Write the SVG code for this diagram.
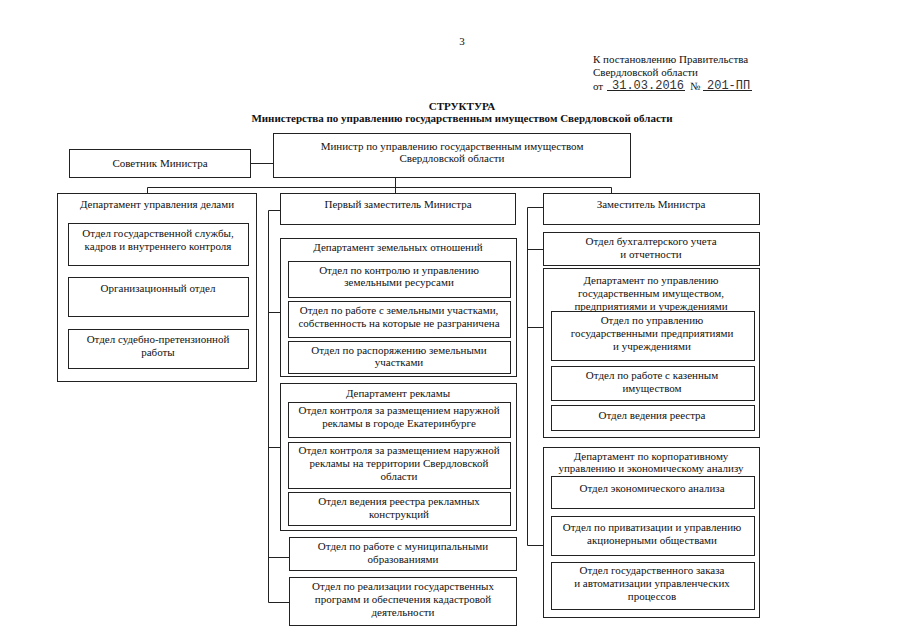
<svg xmlns="http://www.w3.org/2000/svg" width="905" height="640" viewBox="0 0 905 640">
<style>
text{font-family:"Liberation Serif","Times New Roman",serif;font-size:11px;fill:#111}
.c{text-anchor:middle}
.b{font-weight:bold}
.box{fill:#fff;stroke:#222;stroke-width:1}
.ln{fill:none;stroke:#222;stroke-width:1}
.mono{font-family:"Liberation Mono","Courier New",monospace;font-size:12px;fill:#333}
</style>
<rect width="905" height="640" fill="#fff"/>
<g id="header">
<text x="462" y="45" class="c">3</text>
<text x="593" y="63">К постановлению Правительства</text>
<text x="593" y="76">Свердловской области</text>
<text x="593" y="90">от</text>
<text x="612" y="89" class="mono">31.03.2016</text>
<text x="690" y="90">№</text>
<text x="707" y="89" class="mono">201-ПП</text>
<path class="ln" d="M607 90.5H685M703 90.5H752" stroke="#444"/>
<text x="462" y="110" class="c b">СТРУКТУРА</text>
<text x="462" y="122" class="c b">Министерства по управлению государственным имуществом Свердловской области</text>
</g>
<g id="connectors">
<path class="ln" d="M250.5 163.5H273.5"/>
<path class="ln" d="M395.5 178V193M147.5 193V187.5H611.5V193"/>
<path class="ln" d="M280 210.5H268.5V602.5H289M268.5 312.5H280M268.5 447.5H280M268.5 557.5H289"/>
<path class="ln" d="M543 207.5H527.5V545.5H543M527.5 249.5H543M527.5 327.5H543"/>
</g>
<g id="minister">
<rect class="box" x="273.5" y="133.5" width="357" height="44"/>
<text x="452" y="150" class="c">Министр по управлению государственным имуществом</text>
<text x="452" y="162" class="c">Свердловской области</text>
</g>
<g id="advisor">
<rect class="box" x="69.5" y="149.5" width="181" height="28"/>
<text x="160" y="167" class="c">Советник Министра</text>
</g>
<g id="dept-affairs">
<rect class="box" x="57.5" y="193.5" width="199" height="188"/>
<text x="157" y="208" class="c">Департамент управления делами</text>
</g>
<g id="civil-service">
<rect class="box" x="68.5" y="223.5" width="180" height="42"/>
<text x="158" y="237" class="c">Отдел государственной службы,</text>
<text x="158" y="250" class="c">кадров и внутреннего контроля</text>
</g>
<g id="org-dept">
<rect class="box" x="68.5" y="277.5" width="180" height="39"/>
<text x="158" y="292" class="c">Организационный отдел</text>
</g>
<g id="claims">
<rect class="box" x="68.5" y="329.5" width="180" height="39"/>
<text x="158" y="343" class="c">Отдел судебно-претензионной</text>
<text x="158" y="356" class="c">работы</text>
</g>
<g id="first-deputy">
<rect class="box" x="280.5" y="193.5" width="235" height="31"/>
<text x="398" y="208" class="c">Первый заместитель Министра</text>
</g>
<g id="dept-land">
<rect class="box" x="280.5" y="238.5" width="236" height="138"/>
<text x="398" y="251" class="c">Департамент земельных отношений</text>
</g>
<g id="land-control">
<rect class="box" x="288.5" y="261.5" width="222" height="36"/>
<text x="399" y="274" class="c">Отдел по контролю и управлению</text>
<text x="399" y="286" class="c">земельными ресурсами</text>
</g>
<g id="land-plots">
<rect class="box" x="288.5" y="301.5" width="222" height="36"/>
<text x="399" y="314" class="c">Отдел по работе с земельными участками,</text>
<text x="399" y="327" class="c">собственность на которые не разграничена</text>
</g>
<g id="land-disposal">
<rect class="box" x="288.5" y="341.5" width="222" height="32"/>
<text x="399" y="354" class="c">Отдел по распоряжению земельными</text>
<text x="399" y="366" class="c">участками</text>
</g>
<g id="dept-ads">
<rect class="box" x="280.5" y="383.5" width="236" height="147"/>
<text x="398" y="397" class="c">Департамент рекламы</text>
</g>
<g id="ads-ekb">
<rect class="box" x="288.5" y="402.5" width="222" height="35"/>
<text x="399" y="414" class="c">Отдел контроля за размещением наружной</text>
<text x="399" y="427" class="c">рекламы в городе Екатеринбурге</text>
</g>
<g id="ads-region">
<rect class="box" x="288.5" y="442.5" width="222" height="46"/>
<text x="399" y="454" class="c">Отдел контроля за размещением наружной</text>
<text x="399" y="467" class="c">рекламы на территории Свердловской</text>
<text x="399" y="480" class="c">области</text>
</g>
<g id="ads-registry">
<rect class="box" x="288.5" y="492.5" width="222" height="33"/>
<text x="399" y="505" class="c">Отдел ведения реестра рекламных</text>
<text x="399" y="518" class="c">конструкций</text>
</g>
<g id="municipal">
<rect class="box" x="289.5" y="537.5" width="227" height="33"/>
<text x="403" y="550" class="c">Отдел по работе с муниципальными</text>
<text x="403" y="563" class="c">образованиями</text>
</g>
<g id="cadastral">
<rect class="box" x="289.5" y="577.5" width="227" height="48"/>
<text x="403" y="590" class="c">Отдел по реализации государственных</text>
<text x="403" y="603" class="c">программ и обеспечения кадастровой</text>
<text x="403" y="616" class="c">деятельности</text>
</g>
<g id="deputy">
<rect class="box" x="543.5" y="193.5" width="216" height="31"/>
<text x="651" y="208" class="c">Заместитель Министра</text>
</g>
<g id="accounting">
<rect class="box" x="543.5" y="232.5" width="216" height="33"/>
<text x="651" y="245" class="c">Отдел бухгалтерского учета</text>
<text x="651" y="258" class="c">и отчетности</text>
</g>
<g id="dept-property">
<rect class="box" x="543.5" y="268.5" width="216" height="169"/>
<text x="651" y="284" class="c">Департамент по управлению</text>
<text x="651" y="297" class="c">государственным имуществом,</text>
<text x="651" y="310" class="c">предприятиями и учреждениями</text>
</g>
<g id="enterprises">
<rect class="box" x="551.5" y="311.5" width="203" height="49"/>
<text x="652" y="324" class="c">Отдел по управлению</text>
<text x="652" y="337" class="c">государственными предприятиями</text>
<text x="652" y="350" class="c">и учреждениями</text>
</g>
<g id="treasury">
<rect class="box" x="551.5" y="366.5" width="203" height="34"/>
<text x="652" y="379" class="c">Отдел по работе с казенным</text>
<text x="652" y="392" class="c">имуществом</text>
</g>
<g id="registry">
<rect class="box" x="551.5" y="405.5" width="203" height="25"/>
<text x="652" y="419" class="c">Отдел ведения реестра</text>
</g>
<g id="dept-corporate">
<rect class="box" x="543.5" y="447.5" width="216" height="170"/>
<text x="651" y="460" class="c">Департамент по корпоративному</text>
<text x="651" y="472" class="c">управлению и экономическому анализу</text>
</g>
<g id="economic">
<rect class="box" x="551.5" y="476.5" width="203" height="32"/>
<text x="652" y="492" class="c">Отдел экономического анализа</text>
</g>
<g id="privatization">
<rect class="box" x="551.5" y="516.5" width="203" height="39"/>
<text x="652" y="531" class="c">Отдел по приватизации и управлению</text>
<text x="652" y="544" class="c">акционерными обществами</text>
</g>
<g id="procurement">
<rect class="box" x="551.5" y="562.5" width="203" height="47"/>
<text x="652" y="574" class="c">Отдел государственного заказа</text>
<text x="652" y="587" class="c">и автоматизации управленческих</text>
<text x="652" y="600" class="c">процессов</text>
</g>
</svg>
